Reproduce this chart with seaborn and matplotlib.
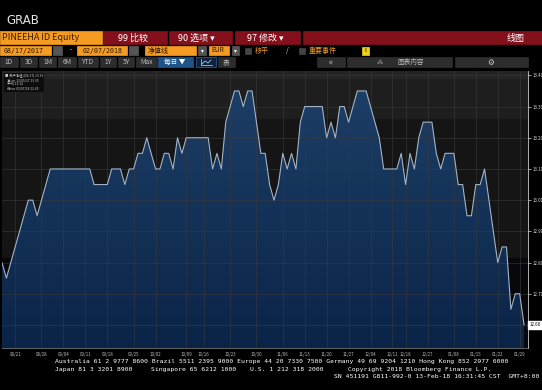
import numpy as np
import matplotlib
matplotlib.use("Agg")
import matplotlib.pyplot as plt
from matplotlib.patches import Rectangle
from matplotlib.colors import LinearSegmentedColormap
import seaborn as sns

# PINEEHA ID Equity - 每日净值 (EUR), 08/17/2017 - 02/07/2018
nav = [12.80, 12.75, 12.80, 12.85, 12.90, 12.95, 13.00, 13.00, 12.95, 13.00, 13.05, 13.10,
       13.10, 13.10, 13.10, 13.10, 13.10, 13.10, 13.10, 13.10, 13.10,
       13.05, 13.05, 13.05, 13.05, 13.10, 13.10, 13.10, 13.05, 13.10, 13.10, 13.15,
       13.15, 13.20, 13.15, 13.10, 13.10, 13.15, 13.15, 13.10, 13.20, 13.15, 13.20,
       13.20, 13.20, 13.20, 13.20, 13.20,
       13.10, 13.15, 13.10, 13.25, 13.30, 13.35, 13.35, 13.30, 13.35, 13.35, 13.25,
       13.15, 13.15, 13.05, 13.00, 13.05, 13.15, 13.10, 13.15, 13.10, 13.25, 13.30,
       13.30, 13.30, 13.30, 13.30, 13.20, 13.25, 13.20, 13.30, 13.30, 13.25, 13.30,
       13.35, 13.35, 13.35, 13.30, 13.25, 13.20,
       13.10, 13.10, 13.10, 13.10, 13.15, 13.05, 13.15, 13.10, 13.20, 13.25, 13.25,
       13.25, 13.15, 13.10, 13.15, 13.15, 13.15, 13.05, 13.05, 12.95, 12.95, 13.05,
       13.05, 13.10, 13.00, 12.90, 12.80, 12.85, 12.85, 12.65, 12.70, 12.70, 12.60]

x_tick_pos = [3, 9, 14, 19, 24, 30, 35, 42, 46, 52, 58, 64, 69, 74, 79, 84, 89, 92, 97, 103, 108, 113, 118]
x_tick_labels = ["08/21", "08/28", "09/04", "09/11", "09/18", "09/25", "10/02", "10/09", "10/16",
                 "10/23", "10/30", "11/06", "11/13", "11/20", "11/27", "12/04", "12/11", "12/18",
                 "12/27", "01/08", "01/15", "01/22", "01/29"]
y_ticks = [12.60, 12.70, 12.80, 12.90, 13.00, 13.10, 13.20, 13.30, 13.40]

sns.set_style("dark")
plt.rcParams['font.family'] = ['Noto Sans CJK SC', 'DejaVu Sans']

fig = plt.figure(figsize=(5.42, 3.90), dpi=100, facecolor='black')

# 终端界面 (像素坐标)
bg = fig.add_axes([0, 0, 1, 1], zorder=0)
bg.set_xlim(0, 542)
bg.set_ylim(390, 0)
bg.axis('off')
bg.add_patch(Rectangle((0, 0), 542, 390, color='black'))

bg.text(6, 20, "GRAB", color='#e6e6e6', fontsize=8.5, va='center', family='DejaVu Sans')

orange = '#f59b22'
red = '#84101c'
grey = '#2d2d2d'

def box(x0, y0, x1, y1, c, ec=None):
    bg.add_patch(Rectangle((x0, y0), x1 - x0, y1 - y0, facecolor=c, edgecolor=ec or c, lw=0.5))

def txt(x, y, s, c='white', fs=6.5, ha='left', **kw):
    bg.text(x, y, s, color=c, fontsize=fs, ha=ha, va='center', **kw)

# 第一行
box(0, 31, 102, 44, orange)
txt(2, 38, "PINEEHA ID Equity", c='#3a1d00', fs=6.5)
box(103, 31, 167, 44, red)
txt(118, 38, "99 比较", fs=6.5)
box(169, 31, 232, 44, red)
txt(178, 38, "90 选项 ▾", fs=6.5)
box(235, 31, 300, 44, red)
txt(247, 38, "97 修改 ▾", fs=6.5)
box(303, 31, 542, 44, red)
txt(525, 38, "线图", fs=6.5, ha='right')

# 第二行
box(0, 46, 51, 55, orange)
txt(4, 50.5, "08/17/2017", c='#2a1500', fs=4.8, family='DejaVu Sans Mono')
box(53, 46, 62, 55, '#555555')
txt(70, 50.5, "-", fs=5)
box(77, 46, 127, 55, orange)
txt(83, 50.5, "02/07/2018", c='#2a1500', fs=4.8, family='DejaVu Sans Mono')
box(129, 46, 138, 55, '#555555')
box(145, 46, 196, 55, orange)
txt(148, 50.5, "净值线", c='#2a1500', fs=5)
box(198, 46, 206, 55, '#555555')
txt(202, 50.5, "▾", fs=4, ha='center')
box(209, 46, 229, 55, orange)
txt(211, 50.5, "EUR", c='#2a1500', fs=4.8)
box(232, 46, 239, 55, '#555555')
txt(235.5, 50.5, "▾", fs=4, ha='center')
box(245, 47.5, 251, 53.5, '#444444')
txt(255, 50.5, "移平", c=orange, fs=5)
txt(286, 50.5, "/", c='#cccccc', fs=5)
box(299, 47.5, 305, 53.5, '#444444')
txt(309, 50.5, "重要事件", c=orange, fs=5)
box(362, 46.5, 369, 54.5, '#f2d21b')
txt(365.5, 50.5, "i", c='black', fs=5, ha='center')

# 第三行
for x0, x1, s in [(0, 18, "1D"), (20, 37, "3D"), (39, 56, "1M"), (58, 76, "6M"),
                  (78, 98, "YTD"), (100, 116, "1Y"), (118, 134, "5Y"), (136, 157, "Max")]:
    box(x0, 57, x1, 67, grey)
    txt((x0 + x1) / 2, 62, s, c='#bbbbbb', fs=4.8, ha='center')
box(158, 57, 193, 67, '#1f5489')
txt(175, 62, "每日 ▼", fs=4.8, ha='center')
box(196, 57, 216, 67, '#10233d', ec='#2d66a8')
# 线图图标
bg.plot([201, 201, 212], [59, 65, 65], color='#9fc3ea', lw=0.6)
bg.plot([202, 205, 208, 211], [64, 61, 63, 60], color='#9fc3ea', lw=0.6)
box(218, 57, 235, 67, grey)
txt(226.5, 62, "表", c='#bbbbbb', fs=4.8, ha='center')
box(317, 57, 345, 67, grey)
txt(331, 62, "«", c='#cccccc', fs=6, ha='center')
box(347, 57, 452, 67, grey)
txt(380, 62, "⁂", c='#bbbbbb', fs=4.5, ha='center', family='DejaVu Sans')
txt(397, 62, "图表内容", c='#bbbbbb', fs=4.8)
box(455, 57, 528, 67, grey)
txt(491, 62, "⚙", c='#cccccc', fs=5.5, ha='center', family='DejaVu Sans')

# 页脚
mono = dict(family='DejaVu Sans Mono', fs=4.6)
txt(55, 362, "Australia 61 2 9777 8600 Brazil 5511 2395 9000 Europe 44 20 7330 7500 "
             "Germany 49 69 9204 1210 Hong Kong 852 2977 6000", **mono)
txt(55, 369.5, "Japan 81 3 3201 8900", **mono)
txt(151, 369.5, "Singapore 65 6212 1000", **mono)
txt(250, 369.5, "U.S. 1 212 318 2000", **mono)
txt(348, 369.5, "Copyright 2018 Bloomberg Finance L.P.", **mono)
txt(539, 377, "SN 451191 G811-992-0 13-Feb-18 16:31:45 CST  GMT+8:00", ha='right', **mono)

# 图表区域
ax = fig.add_axes([2 / 542, 42 / 390, 526 / 542, 277 / 390], zorder=2)
x = np.arange(len(nav))
y_lo, y_hi = 12.526, 13.414
ax.set_xlim(0, len(nav) - 0.1)
ax.set_ylim(y_lo, y_hi)
ax.set_facecolor('#151515')
ax.axhspan(13.263, y_hi, color='#1e1e1e', zorder=0)
ax.axhspan(13.39, y_hi, color='#242424', zorder=0)
ax.axhspan(y_lo, 12.815, color='#07070c', zorder=0)

poly = ax.fill_between(x, nav, y_lo, color='none', lw=0)
cmap = LinearSegmentedColormap.from_list('bb', ['#0a2447', '#1d3e66'])
grad = np.linspace(0, 1, 256).reshape(-1, 1)
im = ax.imshow(grad, cmap=cmap, aspect='auto', origin='lower',
               extent=[0, len(nav), y_lo, max(nav)], zorder=1)
im.set_clip_path(poly.get_paths()[0], transform=ax.transData)

sns.lineplot(x=x, y=nav, ax=ax, color='#a4b3c4', lw=0.8, zorder=3)

ax.set_yticks(y_ticks)
ax.set_xticks(x_tick_pos)
ax.set_xticklabels(x_tick_labels)
ax.yaxis.tick_right()
# 最底部刻度由最后价格标签覆盖
ax.set_yticklabels([""] + [f"{v:.2f}" for v in y_ticks[1:]])
ax.tick_params(axis='y', colors='#dddddd', labelsize=3.2, length=2, width=0.5, pad=1)
ax.tick_params(axis='x', colors='#bbbbbb', labelsize=3.2, length=2, width=0.5, pad=1)
ax.grid(True, color='#3a3a3a', lw=0.5, alpha=0.8)
ax.set_axisbelow(False)
for sp in ['top', 'left']:
    ax.spines[sp].set_visible(False)
ax.spines['right'].set_color('#cccccc')
ax.spines['right'].set_linewidth(0.6)
ax.spines['bottom'].set_color('#888888')
ax.spines['bottom'].set_linewidth(0.5)
ax.set_xlabel("")
ax.set_ylabel("")

# 最后价格标签
ax.text(1.003, nav[-1], f"{nav[-1]:.2f}", transform=ax.get_yaxis_transform(),
        fontsize=3.2, color='black', va='center', ha='left',
        bbox=dict(boxstyle='square,pad=0.25', fc='white', ec='white'))

# 图例
ax.text(0.005, 0.99, "■ 资产净值 (08/17) 13.35\n   高 on 12/05/17 13.35\n   平均 13.12\n   低 on 02/07/18 12.60",
        transform=ax.transAxes, fontsize=2.4, color='#cccccc', va='top', ha='left', linespacing=1.1,
        bbox=dict(boxstyle='square,pad=0.3', fc='#0d0d0d', ec='none'))

fig.savefig("out.png", dpi=100, facecolor='black')
